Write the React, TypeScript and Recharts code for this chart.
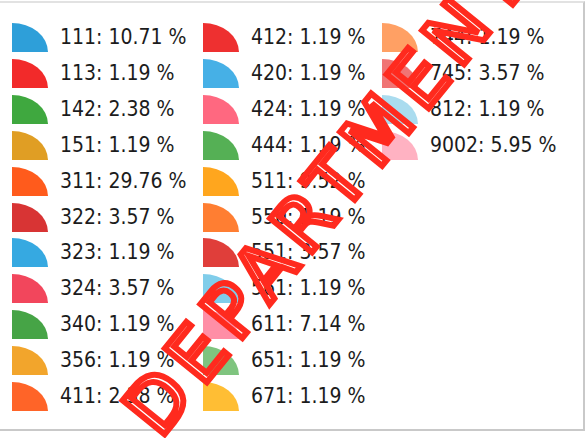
import React from 'react';
import { PieChart, Pie, Cell, Legend } from 'recharts';

// department codes and how many entries each one has (84 in total)
const codes = [
  '111', '113', '142', '151', '311', '322', '323', '324', '340', '356', '411',
  '412', '420', '424', '444', '511', '550', '551', '561', '611', '651', '671',
  '744', '745', '812', '9002',
];
const counts = [
  9, 1, 2, 1, 25, 3, 1, 3, 1, 1, 2,
  1, 1, 1, 1, 8, 1, 3, 1, 6, 1, 1,
  1, 3, 1, 5,
];
const colors = [
  '#2e9fd9', '#f22a2a', '#3fa83f', '#e09e24', '#ff5b1c', '#d83434', '#36a9e1', '#f2465c', '#46a446', '#f2a52c', '#ff6428',
  '#ee3030', '#46b0e6', '#ff6880', '#55b055', '#ffa61e', '#ff7e32', '#e03e3a', '#80cdea', '#ff8ea6', '#7fc47f', '#ffbe34',
  '#ffa064', '#f07474', '#aadcef', '#ffb2c2',
];

const total = counts.reduce((a, b) => a + b, 0);
const data = codes.map((code, i) => ({ code, count: counts[i] }));

const ROWS = 11;
const colLeft = [12, 203, 382];
const rowTop = 23;
const rowStep = 35.9;

const QuarterIcon = ({ color }: { color: string }) => (
  <svg width={36} height={29} style={{ position: 'absolute', left: 0, top: 0 }}>
    <path d="M0,29 L0,0 A36,29 0 0 1 36,29 Z" fill={color} />
  </svg>
);

const renderLegend = (props: any) => {
  const items = props.payload || [];
  return (
    <div style={{ position: 'relative', width: 588, height: 438 }}>
      {items.map((entry: any, i: number) => {
        const col = Math.floor(i / ROWS);
        const row = i % ROWS;
        const p = entry.payload?.count !== undefined ? entry.payload : entry.payload?.payload;
        const pct = ((p?.count ?? 0) / total * 100).toFixed(2);
        return (
          <div
            key={entry.value}
            style={{ position: 'absolute', left: colLeft[col], top: rowTop + row * rowStep, height: 29, width: 180 }}
          >
            <QuarterIcon color={entry.color} />
            <span
              style={{
                position: 'absolute', left: 48, top: -1, whiteSpace: 'nowrap',
                fontFamily: '"DejaVu Sans Condensed", "DejaVu Sans", sans-serif', fontStretch: 'condensed',
                fontSize: 21, color: '#1c1c1c', lineHeight: '30px',
              }}
            >
              {entry.value}: {pct} %
            </span>
          </div>
        );
      })}
    </div>
  );
};

export default function App() {
  return (
    <div style={{ position: 'absolute', left: 0, top: 0, width: 588, height: 438, background: '#fff', overflow: 'hidden' }}>
      {/* scanned page edge */}
      <div style={{ position: 'absolute', left: -2, top: 1, width: 585, height: 426, borderTop: '2px solid #e2e2e2', borderRight: '2px solid #c9c9c9', borderBottom: '2px solid #c9c9c9' }} />
      <PieChart width={588} height={438} margin={{ top: 0, right: 0, bottom: 0, left: 0 }}>
        <Pie data={data} dataKey="count" nameKey="code" cx={-50} cy={-50} outerRadius={0} stroke="none" isAnimationActive={false}>
          {data.map((d, i) => <Cell key={d.code} fill={colors[i]} />)}
        </Pie>
        <Legend content={renderLegend} wrapperStyle={{ top: 0, left: 0, width: 588, height: 438 }} />
      </PieChart>
      {/* red rubber stamp across the page */}
      <svg width={588} height={438} style={{ position: 'absolute', left: 0, top: 0, pointerEvents: 'none' }}>
        <text
          x={0} y={0}
          transform="translate(160,440) rotate(-51)"
          fontFamily='"DejaVu Sans", sans-serif' fontSize={74}
          fill="none" stroke="#ff2a1e" strokeWidth={6} letterSpacing={10}
        >
          DEPARTMENT
        </text>
      </svg>
    </div>
  );
}
